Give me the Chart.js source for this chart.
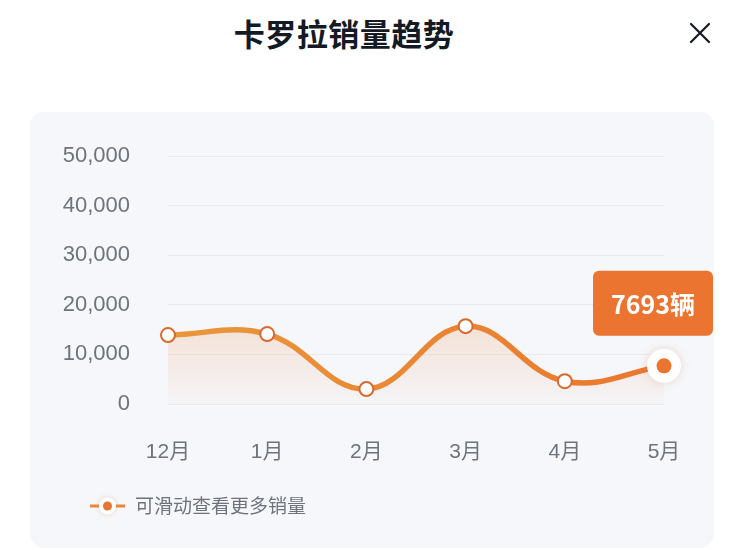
<!DOCTYPE html>
<html lang="zh-CN">
<head>
<meta charset="utf-8">
<title>卡罗拉销量趋势</title>
<script src="https://cdn.jsdelivr.net/npm/chart.js@4.4.1/dist/chart.umd.min.js"></script>
<style>
    html, body { margin: 0; padding: 0; background: #ffffff; }
    body { width: 744px; height: 550px; position: relative; overflow: hidden;
           font-family: "Noto Sans CJK SC", "Noto Sans", sans-serif; }
    .title { position: absolute; left: 0; width: 688px; top: 10px; text-align: center;
             font-size: 31px; font-weight: 700; color: #141a24; letter-spacing: 0.5px; line-height: 46px; }
    .close { position: absolute; left: 689px; top: 22px; width: 22px; height: 22px; }
    .panel { position: absolute; left: 30px; top: 112px; width: 684px; height: 436px;
             background: #f6f7fa; border-radius: 14px; }
    #chart { position: absolute; left: 0; top: 0; }
</style>
</head>
<body>
<div class="title">卡罗拉销量趋势</div>
<svg class="close" viewBox="0 0 22 22">
    <path d="M2 2 L20 20 M20 2 L2 20" stroke="#141a24" stroke-width="2.2" stroke-linecap="round" fill="none"/>
</svg>
<div class="panel"></div>
<canvas id="chart" width="744" height="550"></canvas>

<script>
// Data
const months = ['12月', '1月', '2月', '3月', '4月', '5月'];
const sales = [13900, 14100, 3000, 15700, 4600, 7693];
const yMin = 0;
const yMax = 50000;
const yStep = 10000;
const legendText = '可滑动查看更多销量';
const unit = '辆';

const FONT = '"Noto Sans CJK SC", "Noto Sans", sans-serif';
// digits look like a Helvetica-style face in the original
const TICK_FONT = '"Liberation Sans", "Noto Sans CJK SC", sans-serif';
const ORANGE = '#ec7431';

// White halo behind the last (highlighted) point
const haloPlugin = {
    id: 'halo',
    afterDatasetsDraw(chart) {
        const meta = chart.getDatasetMeta(0);
        const pt = meta.data[meta.data.length - 1];
        if (!pt) return;
        const ctx = chart.ctx;
        ctx.save();
        ctx.shadowColor = 'rgba(200, 120, 70, 0.25)';
        ctx.shadowBlur = 8;
        ctx.fillStyle = '#ffffff';
        ctx.beginPath();
        ctx.arc(pt.x, pt.y, 17, 0, Math.PI * 2);
        ctx.fill();
        ctx.shadowColor = 'transparent';
        ctx.fillStyle = ORANGE;
        ctx.beginPath();
        ctx.arc(pt.x, pt.y, 7.5, 0, Math.PI * 2);
        ctx.fill();
        ctx.restore();
    }
};

// Value badge above the last point
const badgePlugin = {
    id: 'badge',
    afterDraw(chart) {
        const meta = chart.getDatasetMeta(0);
        const i = meta.data.length - 1;
        const pt = meta.data[i];
        if (!pt) return;
        const ctx = chart.ctx;
        const w = 120, h = 65;
        let bx = pt.x - w / 2;
        bx = Math.min(bx, chart.width - 31 - w);
        const by = pt.y - 30 - h;
        ctx.save();
        ctx.fillStyle = ORANGE;
        ctx.beginPath();
        ctx.roundRect(bx, by, w, h, 6);
        ctx.fill();
        ctx.fillStyle = '#ffffff';
        ctx.font = '700 25px ' + FONT;
        ctx.textAlign = 'center';
        ctx.textBaseline = 'middle';
        ctx.fillText(sales[i] + unit, bx + w / 2, by + h / 2 + 1);
        ctx.restore();
    }
};

// Custom legend: short line with a dot, then the hint text
const legendPlugin = {
    id: 'hintLegend',
    afterDraw(chart) {
        const ctx = chart.ctx;
        const x = 90, y = 506;
        ctx.save();
        ctx.strokeStyle = '#e9863a';
        ctx.lineWidth = 3;
        ctx.beginPath();
        ctx.moveTo(x, y); ctx.lineTo(x + 9, y);
        ctx.moveTo(x + 26, y); ctx.lineTo(x + 35, y);
        ctx.stroke();
        ctx.shadowColor = 'rgba(200, 120, 70, 0.3)';
        ctx.shadowBlur = 5;
        ctx.fillStyle = '#ffffff';
        ctx.beginPath();
        ctx.arc(x + 17.5, y, 8.5, 0, Math.PI * 2);
        ctx.fill();
        ctx.shadowColor = 'transparent';
        ctx.fillStyle = ORANGE;
        ctx.beginPath();
        ctx.arc(x + 17.5, y, 4.5, 0, Math.PI * 2);
        ctx.fill();
        ctx.fillStyle = '#6e737c';
        ctx.font = '19px ' + FONT;
        ctx.textAlign = 'left';
        ctx.textBaseline = 'middle';
        ctx.fillText(chart.data.datasets[0].label, x + 45, y);
        ctx.restore();
    }
};

function lineGradient(ctx, area) {
    const g = ctx.createLinearGradient(area.left, 0, area.right, 0);
    g.addColorStop(0, '#e9973a');
    g.addColorStop(1, '#ea772e');
    return g;
}

function fillGradient(ctx, area) {
    const g = ctx.createLinearGradient(0, area.top + 150, 0, area.bottom);
    g.addColorStop(0, 'rgba(236, 128, 60, 0.22)');
    g.addColorStop(1, 'rgba(236, 128, 60, 0.02)');
    return g;
}

new Chart(document.getElementById('chart'), {
    type: 'line',
    data: {
        labels: months,
        datasets: [{
            label: legendText,
            data: sales,
            borderColor: (c) => c.chart.chartArea ? lineGradient(c.chart.ctx, c.chart.chartArea) : '#e9873a',
            backgroundColor: (c) => c.chart.chartArea ? fillGradient(c.chart.ctx, c.chart.chartArea) : 'rgba(236,128,60,0.1)',
            borderWidth: 5.5,
            tension: 0.4,
            fill: 'origin',
            clip: false,
            pointRadius: (c) => c.dataIndex === sales.length - 1 ? 0 : 7,
            pointBackgroundColor: '#ffffff',
            pointBorderColor: '#d9692d',
            pointBorderWidth: 2
        }]
    },
    options: {
        responsive: false,
        animation: false,
        events: [],
        layout: { padding: { top: 156, right: 80, bottom: 66, left: 0 } },
        plugins: {
            legend: { display: false },
            tooltip: { enabled: false }
        },
        scales: {
            x: {
                offset: false,
                grid: { display: false, drawTicks: false },
                border: { display: false },
                ticks: {
                    color: '#6e737c',
                    font: { size: 21, family: TICK_FONT },
                    padding: 36,
                    maxRotation: 0
                },
                afterFit(scale) { scale.height = 80; }
            },
            y: {
                min: yMin,
                max: yMax,
                grid: { color: '#e8eaee', lineWidth: 1, drawTicks: false },
                border: { display: false },
                ticks: {
                    stepSize: yStep,
                    color: '#6e737c',
                    font: { size: 22, family: TICK_FONT },
                    padding: 38,
                    callback: (v) => v.toLocaleString('en-US')
                },
                afterFit(scale) { scale.width = 168; }
            }
        }
    },
    plugins: [haloPlugin, badgePlugin, legendPlugin]
});
</script>
</body>
</html>
